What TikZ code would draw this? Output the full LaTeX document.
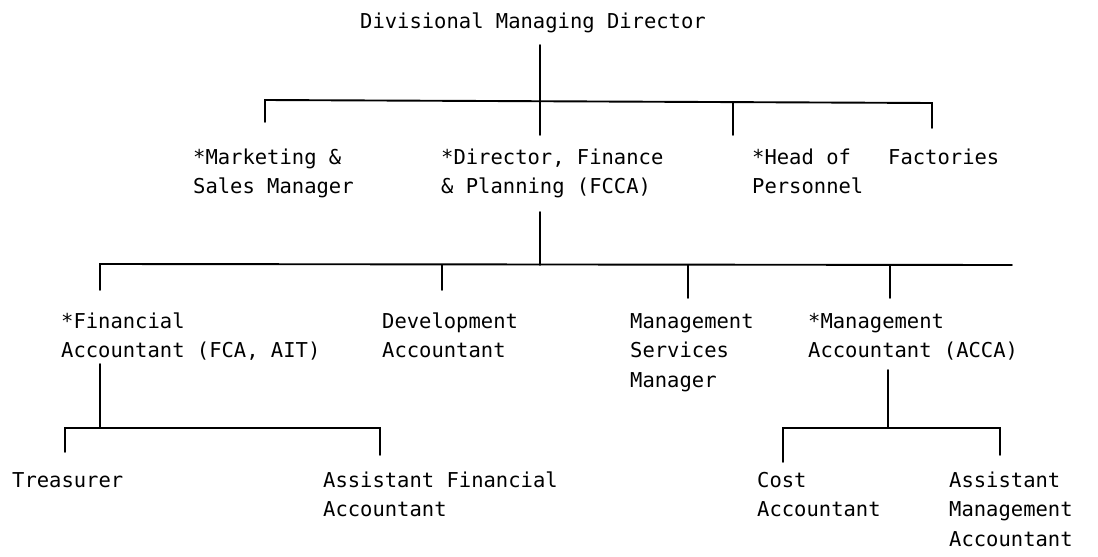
\documentclass[tikz,border=0pt]{standalone}
\usepackage{fontspec}
\newfontfamily\typefont{DejaVu Sans Mono}
\newcommand\postlines[1]{\begin{tabular}[t]{@{}l@{}}#1\end{tabular}}
\begin{document}
\begin{tikzpicture}[x=1pt,y=-1pt,
  post/.style={anchor=base west, inner sep=0pt,
    font=\typefont\fontsize{20.5}{29.5}\selectfont},
  wire/.style={line width=1.9pt, line cap=round}]
\useasboundingbox (0,0) rectangle (1098,557);

% ---- posts ----
\node[post] (mdir) at (360,28)  {Divisional Managing Director};
\node[post] (mkt)  at (193,164) {\postlines{*Marketing \&\\Sales Manager}};
\node[post] (dfp)  at (441,164) {\postlines{*Director, Finance\\\& Planning (FCCA)}};
\node[post] (pers) at (752,164) {\postlines{*Head of\\Personnel}};
\node[post] (fact) at (888,164) {Factories};

\node[post] (fin)  at (61,328)  {\postlines{*Financial\\Accountant (FCA, AIT)}};
\node[post] (dev)  at (382,328) {\postlines{Development\\Accountant}};
\node[post] (msm)  at (630,328) {\postlines{Management\\Services\\Manager}};
\node[post] (mgt)  at (808,328) {\postlines{*Management\\Accountant (ACCA)}};

\node[post] (tre)  at (12,487)  {Treasurer};
\node[post] (afa)  at (323,487) {\postlines{Assistant Financial\\Accountant}};
\node[post] (cost) at (757,487) {\postlines{Cost\\Accountant}};
\node[post] (ama)  at (949,487) {\postlines{Assistant\\Management\\Accountant}};

% ---- junction points ----
\coordinate (s1) at (540,45);   \coordinate (j1) at (540,100);
\coordinate (a1) at (265,100);  \coordinate (z1) at (932,103);
\coordinate (d1a) at (265,122); \coordinate (d1b) at (540,135);
\coordinate (d1c) at (733,102); \coordinate (e1c) at (733,135);
\coordinate (e1d) at (932,128);

\coordinate (s2) at (540,212);  \coordinate (j2) at (540,265);
\coordinate (a2) at (100,264);  \coordinate (z2) at (1012,265);
\coordinate (e2a) at (100,290);
\coordinate (d2b) at (442,265); \coordinate (e2b) at (442,290);
\coordinate (d2c) at (688,265); \coordinate (e2c) at (688,298);
\coordinate (d2d) at (890,265); \coordinate (e2d) at (890,298);

\coordinate (s3) at (100,364);  \coordinate (j3) at (100,428);
\coordinate (a3) at (65,428);   \coordinate (z3) at (380,428);
\coordinate (e3a) at (65,452);  \coordinate (e3b) at (380,455);

\coordinate (s4) at (888,370);  \coordinate (j4) at (888,428);
\coordinate (a4) at (783,428);  \coordinate (z4) at (1000,428);
\coordinate (e4a) at (783,462); \coordinate (e4b) at (1000,455);

% ---- connectors ----
\draw[wire] (s1) -- (j1);
\draw[wire] (d1a) -- (a1) -- (z1) -- (e1d);
\draw[wire] (j1) -- (d1b);
\draw[wire] (d1c) -- (e1c);

\draw[wire] (s2) -- (j2);
\draw[wire] (e2a) -- (a2) -- (z2);
\draw[wire] (d2b) -- (e2b);
\draw[wire] (d2c) -- (e2c);
\draw[wire] (d2d) -- (e2d);

\draw[wire] (s3) -- (j3);
\draw[wire] (e3a) -- (a3) -- (z3) -- (e3b);

\draw[wire] (s4) -- (j4);
\draw[wire] (e4a) -- (a4) -- (z4) -- (e4b);
\end{tikzpicture}
\end{document}
